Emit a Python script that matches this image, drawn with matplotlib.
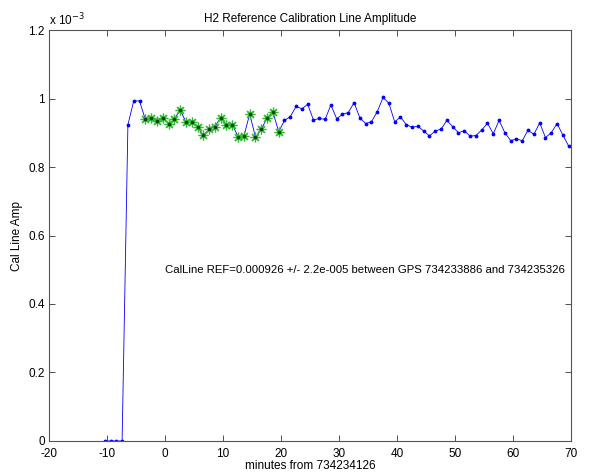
import numpy as np
import matplotlib
matplotlib.use("Agg")
import matplotlib.pyplot as plt
from matplotlib.ticker import FuncFormatter

plt.rcParams['font.family'] = ['Liberation Sans', 'DejaVu Sans']
plt.rcParams['axes.unicode_minus'] = False

# minutes from 734234126 (1-minute cadence)
t_start = -10.4
amp_e3 = [0.0, 0.0, 0.0, 0.0,
          0.923, 0.993, 0.993,
          0.939, 0.944, 0.933, 0.942, 0.927, 0.939, 0.967, 0.932, 0.930, 0.917,
          0.893, 0.910, 0.918, 0.944, 0.923, 0.923, 0.889, 0.890, 0.955, 0.887,
          0.910, 0.944, 0.961, 0.903,
          0.936, 0.947, 0.977, 0.970, 0.983, 0.937, 0.942, 0.939, 0.981, 0.941,
          0.954, 0.959, 0.988, 0.943, 0.927, 0.932, 0.962, 1.003, 0.986, 0.932,
          0.946, 0.924, 0.916, 0.919, 0.905, 0.891, 0.905, 0.911, 0.936, 0.918,
          0.900, 0.906, 0.890, 0.892, 0.908, 0.928, 0.897, 0.936, 0.900, 0.877,
          0.882, 0.877, 0.908, 0.895, 0.929, 0.886, 0.900, 0.927, 0.893, 0.861]
ref_first, ref_last = 7, 30  # indices of points used for reference average

minutes = t_start + np.arange(len(amp_e3))
amp = np.array(amp_e3) * 1e-3

fig = plt.figure(figsize=(5.9, 4.75), dpi=100)
ax = fig.add_axes([0.0831, 0.0716, 0.8847, 0.8652])

ax.plot(minutes, amp, '-', color='blue', lw=0.6, marker='.', ms=3.5)
sel = slice(ref_first, ref_last + 1)
ax.plot(minutes[sel], amp[sel], linestyle='none', marker=(8, 2, 0), ms=7,
        color='#33bb33', markeredgewidth=0.9)
ax.plot(minutes[sel], amp[sel], linestyle='none', marker='.', ms=3, color='#004400')

ax.set_xlim(-20, 70)
ax.set_ylim(0, 1.2e-3)
ax.set_xticks(np.arange(-20, 71, 10))
ax.set_yticks(np.arange(0, 1.21e-3, 0.2e-3))
ax.yaxis.set_major_formatter(FuncFormatter(lambda v, p: f"{v*1e3:g}"))

ax.tick_params(direction='in', top=True, right=True, length=4, width=0.6,
               labelsize=8.5, colors='#333333', labelcolor='black', pad=3)
ax.tick_params(axis='x', pad=5)
for s in ax.spines.values():
    s.set_linewidth(0.8)
    s.set_color('#555555')

ax.text(0.0, 1.005, r'x 10$^{-3}$', transform=ax.transAxes, fontsize=8.5,
        ha='left', va='bottom')

ax.set_title('H2 Reference Calibration Line Amplitude', fontsize=8.5, pad=6)
ax.set_xlabel('minutes from 734234126', fontsize=8.5, labelpad=0)
ax.set_ylabel('Cal Line Amp', fontsize=8.5, labelpad=4)

ax.text(0, 0.5e-3, 'CalLine REF=0.000926 +/- 2.2e-005 between GPS 734233886 and 734235326',
        fontsize=8.2, ha='left', va='center')

fig.savefig('out.png', dpi=100)
